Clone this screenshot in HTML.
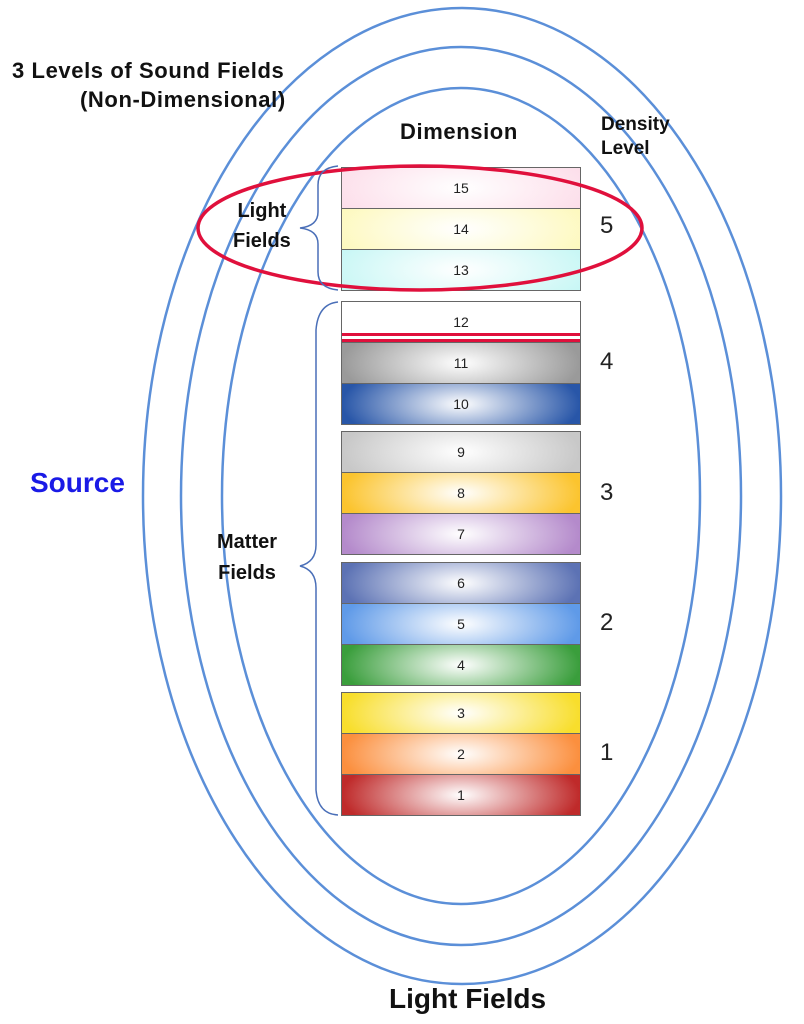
<!DOCTYPE html>
<html><head><meta charset="utf-8"><style>
body{margin:0;width:804px;height:1024px;background:#fff;position:relative;overflow:hidden;font-family:"Liberation Sans",sans-serif}
.t{position:absolute;font-weight:bold;color:#111;white-space:nowrap}
.bar{position:absolute;left:341px;width:238px;border:1px solid #666;box-sizing:content-box}
.r{height:40px;border-bottom:1px solid #666;text-align:center;line-height:40px;font-size:14px;color:#222}
.r:last-child{border-bottom:none}
.n{position:absolute;font-size:24px;color:#222}
</style></head><body>
<svg width="804" height="1024" style="position:absolute;left:0;top:0">
<g fill="none" stroke="#5b8fd8" stroke-width="2.5">
<ellipse cx="462" cy="496" rx="319" ry="488"/>
<ellipse cx="461" cy="496" rx="280" ry="449"/>
<ellipse cx="461" cy="496" rx="239" ry="408"/>
</g>
</svg>
<div class="bar" style="top:167px">
<div class="r" style="background:radial-gradient(ellipse 60% 120% at 50% 50%,#fff,#fcdbe8)">15</div>
<div class="r" style="background:radial-gradient(ellipse 60% 120% at 50% 50%,#fff,#fdf8b8)">14</div>
<div class="r" style="background:radial-gradient(ellipse 60% 120% at 50% 50%,#fff,#c3f6f4)">13</div>
</div>
<div class="bar" style="top:301px">
<div class="r" style="background:#fff;position:relative">12<div style="position:absolute;left:0;right:0;top:31px;height:3px;background:#e0103c"></div><div style="position:absolute;left:0;right:0;top:37px;height:3px;background:#e0103c"></div></div>
<div class="r" style="background:radial-gradient(ellipse 50% 110% at 50% 50%,#fff,#9a9a9a)">11</div>
<div class="r" style="background:radial-gradient(ellipse 50% 110% at 50% 50%,#fff,#2856a8)">10</div>
</div>
<div class="bar" style="top:431px">
<div class="r" style="background:radial-gradient(ellipse 50% 110% at 50% 50%,#fff,#c8c8c8)">9</div>
<div class="r" style="background:radial-gradient(ellipse 50% 110% at 50% 50%,#fff,#fbc42e)">8</div>
<div class="r" style="background:radial-gradient(ellipse 50% 110% at 50% 50%,#fff,#b48acb)">7</div>
</div>
<div class="bar" style="top:562px">
<div class="r" style="background:radial-gradient(ellipse 50% 110% at 50% 50%,#fff,#5c72b4)">6</div>
<div class="r" style="background:radial-gradient(ellipse 50% 110% at 50% 50%,#fff,#5f9ae8)">5</div>
<div class="r" style="background:radial-gradient(ellipse 50% 110% at 50% 50%,#fff,#3a9e3c)">4</div>
</div>
<div class="bar" style="top:692px">
<div class="r" style="background:radial-gradient(ellipse 50% 110% at 50% 50%,#fff,#f8de2c)">3</div>
<div class="r" style="background:radial-gradient(ellipse 50% 110% at 50% 50%,#fff,#fb8f3e)">2</div>
<div class="r" style="background:radial-gradient(ellipse 50% 110% at 50% 50%,#fff,#bf2a2a)">1</div>
</div>
<svg width="804" height="1024" style="position:absolute;left:0;top:0">
<ellipse cx="420" cy="228" rx="222" ry="62" fill="none" stroke="#e0103c" stroke-width="3.5"/>
<g fill="none" stroke="#4a6fb8" stroke-width="1.5">
<path d="M338 166 Q318 168 318 185 L318 212 Q318 226 300 228 Q318 230 318 244 L318 272 Q318 288 338 290"/>
<path d="M338 302 Q318 304 316 330 L316 545 Q316 562 300 566 Q316 570 316 588 L316 790 Q318 814 338 815"/>
</g>
</svg>
<div class="t" style="left:12px;top:58px;font-size:22px;letter-spacing:0.6px">3 Levels of Sound Fields</div>
<div class="t" style="left:80px;top:87px;font-size:22px;letter-spacing:0.6px">(Non-Dimensional)</div>
<div class="t" style="left:400px;top:119px;font-size:22px;letter-spacing:0.6px">Dimension</div>
<div class="t" style="left:601px;top:113px;font-size:19px;line-height:24px">Density<br>Level</div>
<div class="t" style="left:233px;top:196px;font-size:20px;line-height:30px;text-align:center">Light<br>Fields</div>
<div class="t" style="left:217px;top:527px;font-size:20px;line-height:31px;text-align:center">Matter<br>Fields</div>
<div class="t" style="left:30px;top:467px;font-size:28px;color:#1a1ae6">Source</div>
<div class="t" style="left:389px;top:983px;font-size:28px">Light Fields</div>
<div class="n" style="left:600px;top:212px">5</div>
<div class="n" style="left:600px;top:348px">4</div>
<div class="n" style="left:600px;top:479px">3</div>
<div class="n" style="left:600px;top:609px">2</div>
<div class="n" style="left:600px;top:739px">1</div>
</body></html>
